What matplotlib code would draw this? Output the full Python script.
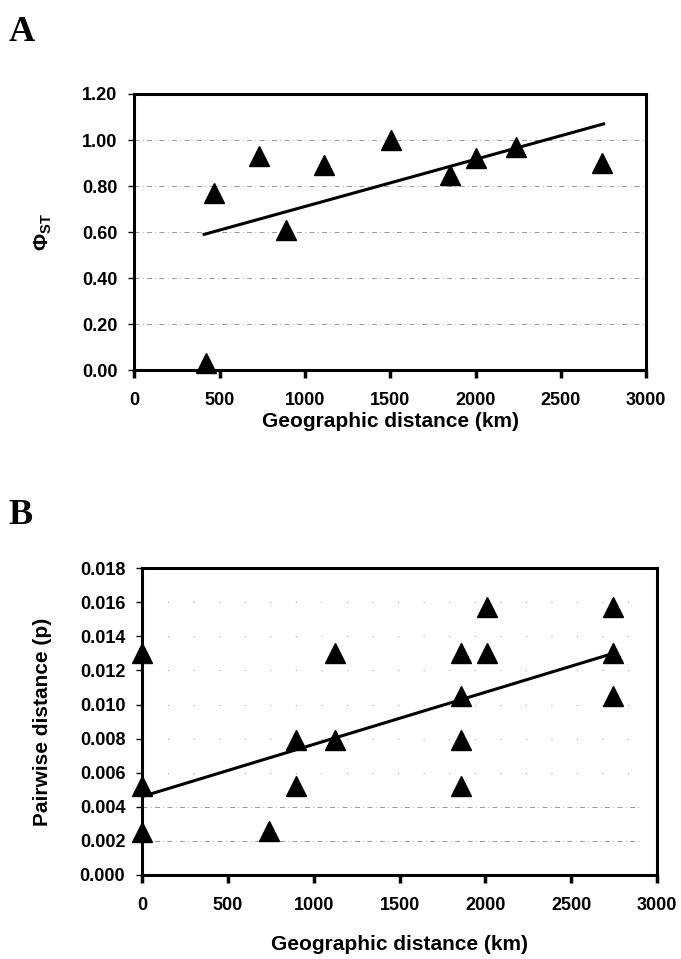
# Isolation by distance: PhiST (A) and pairwise distance (B) vs geographic distance
import matplotlib.pyplot as plt

plt.rcParams['font.family'] = 'Liberation Sans'
plt.rcParams['font.weight'] = 'bold'
plt.rcParams['mathtext.fontset'] = 'custom'
plt.rcParams['mathtext.rm'] = 'Liberation Sans:bold'
plt.rcParams['mathtext.bf'] = 'Liberation Sans:bold'

# Panel A data (km, PhiST)
dist_a = [419, 465, 730, 889, 1113, 1504, 1851, 2001, 2235, 2741]
phist_a = [0.03, 0.77, 0.93, 0.61, 0.89, 1.00, 0.85, 0.92, 0.97, 0.90]
# trend line ends
trend_a_x = [410, 2750]
trend_a_y = [0.59, 1.07]

# Panel B data (km, pairwise distance p)
dist_b = [0, 0, 0, 742, 894, 894, 1122, 1122, 1855, 1855, 1855, 1855,
          2007, 2007, 2743, 2743, 2743]
pdist_b = [0.0130, 0.0052, 0.0025, 0.0026, 0.0079, 0.0052, 0.0130, 0.0079,
           0.0130, 0.0105, 0.0079, 0.0052, 0.0157, 0.0130, 0.0157, 0.0130,
           0.0105]
trend_b_x = [0, 2745]
trend_b_y = [0.0046, 0.0130]

xticks = [0, 500, 1000, 1500, 2000, 2500, 3000]
yticks_a = [0.0, 0.2, 0.4, 0.6, 0.8, 1.0, 1.2]
yticks_b = [0.000, 0.002, 0.004, 0.006, 0.008, 0.010, 0.012, 0.014, 0.016, 0.018]
# which grid lines show up clearly in the scan (the rest are only faint dots)
solid_grid_b = [0.002, 0.004]

fig = plt.figure(figsize=(6.81, 9.59), dpi=100)
ax_a = fig.add_axes([0.197, 0.614, 0.752, 0.288])
ax_b = fig.add_axes([0.2085, 0.0876, 0.7565, 0.320])


def style_axes(ax, yticks, fmt):
    ax.set_xlim(0, 3000)
    ax.set_ylim(yticks[0], yticks[-1])
    ax.set_xticks(xticks)
    ax.set_yticks(yticks)
    ax.set_yticklabels([fmt.format(v) for v in yticks])
    for s in ax.spines.values():
        s.set_linewidth(2.2)
    ax.tick_params(axis='x', direction='out', length=6, width=2.5, pad=10, labelsize=13)
    ax.tick_params(axis='y', direction='out', length=4, width=1, pad=8, labelsize=13)


style_axes(ax_a, yticks_a, '{:.2f}')
for v in yticks_a[1:-1]:
    ax_a.axhline(v, color='#888888', lw=0.6, ls=(0, (6, 4, 1, 4)), zorder=0)
ax_a.plot(trend_a_x, trend_a_y, color='black', lw=2.2, zorder=3)
ax_a.plot(dist_a, phist_a, '^', color='black', ms=14, clip_on=False, zorder=4)
ax_a.set_xlabel('Geographic distance (km)', fontsize=15, fontweight='bold')
ax_a.xaxis.set_label_coords(0.5, -0.185)
ax_a.xaxis.label.set_va('center')
ax_a.set_ylabel(r'$\Phi_{\mathrm{ST}}$', fontsize=15)
ax_a.yaxis.set_label_coords(-0.178, 0.5)
ax_a.yaxis.label.set_va('center')

style_axes(ax_b, yticks_b, '{:.3f}')
for v in yticks_b[1:-1]:
    if v in solid_grid_b:
        ax_b.axhline(v, xmax=0.97, color='#888888', lw=0.6, ls=(0, (6, 4, 1, 4)), zorder=0)
    else:
        ax_b.axhline(v, xmax=0.97, color='#aaaaaa', lw=0.8, ls=(0, (1, 22)), zorder=0)
ax_b.plot(trend_b_x, trend_b_y, color='black', lw=2.2, zorder=3)
ax_b.plot(dist_b, pdist_b, '^', color='black', ms=14, clip_on=False, zorder=4)
ax_b.set_xlabel('Geographic distance (km)', fontsize=15, fontweight='bold')
ax_b.xaxis.set_label_coords(0.5, -0.228)
ax_b.xaxis.label.set_va('center')
ax_b.set_ylabel('Pairwise distance (p)', fontsize=15, fontweight='bold')
ax_b.yaxis.set_label_coords(-0.194, 0.5)
ax_b.yaxis.label.set_va('center')

# panel letters
fig.text(0.013, 0.966, 'A', family='Liberation Serif', fontweight='bold', fontsize=26, va='center')
fig.text(0.013, 0.462, 'B', family='Liberation Serif', fontweight='bold', fontsize=26, va='center')

plt.savefig('out.png', dpi=100)
